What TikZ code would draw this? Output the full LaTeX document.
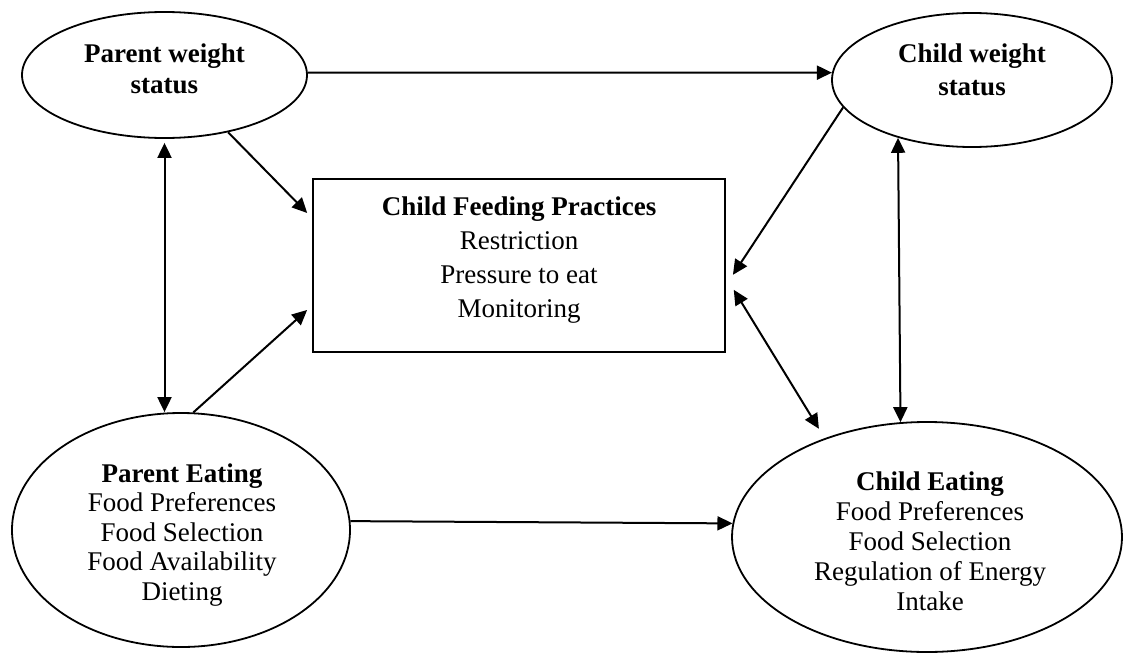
\documentclass[tikz,border=0pt]{standalone}
\usepackage{fontspec}
\setmainfont{Liberation Serif}
\usetikzlibrary{shapes.geometric,arrows.meta}

\begin{document}
\begin{tikzpicture}[x=1pt,y=-1pt,
  oval/.style={ellipse, draw, line width=1.8pt, inner sep=0pt},
  rectbox/.style={rectangle, draw, line width=1.8pt, inner sep=0pt},
  lbl/.style={align=center, inner sep=0pt},
  tip/.tip={Triangle[length=15pt,width=14pt]},
  link/.style={line width=2pt, -tip},
  twoway/.style={line width=2pt, tip-tip},
]
\useasboundingbox (0,0) rectangle (1124,653);

% outlines
\node[oval, minimum width=285pt, minimum height=126pt] (pws) at (164.5,75) {};
\node[oval, minimum width=280pt, minimum height=134pt] (cws) at (972,80) {};
\node[rectbox, minimum width=412pt, minimum height=173pt] (cfp) at (519,265.5) {};
\node[oval, minimum width=338pt, minimum height=234pt] (pe) at (181,530) {};
\node[oval, minimum width=390pt, minimum height=230pt] (ce) at (927,537) {};

% texts
\node[lbl, font=\fontsize{27}{31}\selectfont\bfseries] (pwsT) at (164.5,69)
  {Parent weight\\status};
\node[lbl, font=\fontsize{27}{33}\selectfont\bfseries] (cwsT) at (972,70)
  {Child weight\\status};
\node[lbl, font=\fontsize{27}{34}\selectfont] (cfpT) at (519,260)
  {\textbf{Child Feeding Practices}\\Restriction\\Pressure to eat\\Monitoring};
\node[lbl, font=\fontsize{27}{29.5}\selectfont] (peT) at (182,535)
  {\textbf{Parent Eating}\\Food Preferences\\Food Selection\\Food Availability\\Dieting};
\node[lbl, font=\fontsize{27}{30}\selectfont] (ceT) at (930,541)
  {\textbf{Child Eating}\\Food Preferences\\Food Selection\\Regulation of Energy\\Intake};

% connectors
\draw[link] (pws.1) -- (cws.177);
\draw[link] (pe.3) -- (ce.176);
\draw[twoway, shorten <=4pt] (pws.south) -- (pws.south |- pe.north);
\draw[twoway] (cws.218) -- (ce.103);
\draw[link, shorten >=7pt] (pws.-42) -- ([yshift=47.5pt]cfp.west);
\draw[link, shorten >=6.7pt] (pe.84) -- ([yshift=-40pt]cfp.west);
\draw[link, shorten >=12.8pt] (cws.192) -- ([yshift=-20pt]cfp.east);
\draw[twoway, shorten <=15pt, shorten >=11pt] ([yshift=-11.5pt]cfp.east) -- (ce.136.6);
\end{tikzpicture}
\end{document}
